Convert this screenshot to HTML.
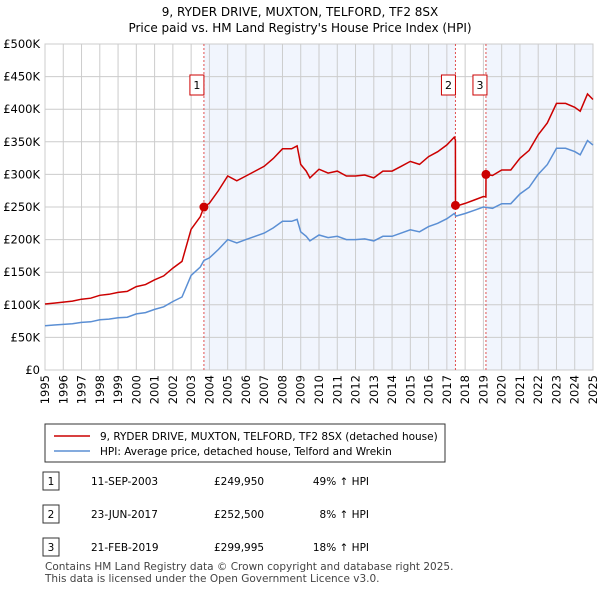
<!DOCTYPE html>
<html><head><meta charset="utf-8"><style>
body{margin:0;background:#fff;font-family:"DejaVu Sans","Liberation Sans",sans-serif;}
svg text{font-family:"DejaVu Sans","Liberation Sans",sans-serif;}
</style></head><body>
<svg id="c" width="600" height="590" xmlns="http://www.w3.org/2000/svg">
<text x="300" y="16" text-anchor="middle" font-size="12">9, RYDER DRIVE, MUXTON, TELFORD, TF2 8SX</text>
<text x="300" y="32" text-anchor="middle" font-size="12">Price paid vs. HM Land Registry's House Price Index (HPI)</text>
<g id="plot"></g>
<g>
<rect x="45" y="424" width="400" height="38" fill="#fff" stroke="#333"/>
<line x1="54" y1="436" x2="90" y2="436" stroke="#cc0000" stroke-width="1.5"/>
<text x="100" y="440" font-size="10.5">9, RYDER DRIVE, MUXTON, TELFORD, TF2 8SX (detached house)</text>
<line x1="54" y1="451" x2="90" y2="451" stroke="#5b8fd4" stroke-width="1.5"/>
<text x="100" y="455" font-size="10.5">HPI: Average price, detached house, Telford and Wrekin</text>
</g>
<g id="tbl" font-size="10.5"></g>
<text x="45" y="570" font-size="10.5" fill="#444">Contains HM Land Registry data © Crown copyright and database right 2025.</text>
<text x="45" y="582" font-size="10.5" fill="#444">This data is licensed under the Open Government Licence v3.0.</text>
</svg>
<script>
const hpiYears=[1995,1995.5,1996,1996.5,1997,1997.5,1998,1998.5,1999,1999.5,2000,2000.5,2001,2001.5,2002,2002.5,2003,2003.5,2003.7,2004,2004.5,2005,2005.5,2006,2006.5,2007,2007.5,2008,2008.5,2008.8,2009,2009.3,2009.5,2010,2010.5,2011,2011.5,2012,2012.5,2013,2013.5,2014,2014.5,2015,2015.5,2016,2016.5,2017,2017.4,2017.5,2018,2018.5,2019,2019.5,2020,2020.5,2021,2021.5,2022,2022.5,2023,2023.5,2024,2024.3,2024.7,2025];
const hpiValues=[68,69,70,71,73,74,77,78,80,81,86,88,93,97,105,112,145,158,168,172,185,200,195,200,205,210,218,228,228,231,212,205,198,207,203,205,200,200,201,198,205,205,210,215,212,220,225,232,240,236,240,245,250,248,255,255,270,280,300,315,340,340,335,330,352,345];
const saleDates=[2003.7,2017.47,2019.14];
const salePrices=[249.95,252.5,299.995];
const saleLabels=["1","2","3"];
const saleDateText=["11-SEP-2003","23-JUN-2017","21-FEB-2019"];
const salePriceText=["£249,950","£252,500","£299,995"];
const saleHpiText=["49% ↑ HPI","8% ↑ HPI","18% ↑ HPI"];
const yTicks=[0,50,100,150,200,250,300,350,400,450,500];
const yTickLabels=["£0","£50K","£100K","£150K","£200K","£250K","£300K","£350K","£400K","£450K","£500K"];
const xTicks=[1995,1996,1997,1998,1999,2000,2001,2002,2003,2004,2005,2006,2007,2008,2009,2010,2011,2012,2013,2014,2015,2016,2017,2018,2019,2020,2021,2022,2023,2024,2025];

const X0=45,X1=593,Y0=370,Y1=44;
const xs=v=>X0+(v-1995)/30*(X1-X0);
const ys=v=>Y0-v/500*(Y0-Y1);
const NS="http://www.w3.org/2000/svg";
const plot=document.getElementById('plot');
function mk(t,a,p){const e=document.createElementNS(NS,t);for(const k in a)e.setAttribute(k,a[k]);(p||plot).appendChild(e);return e;}
function hpiAt(t){for(let i=1;i<hpiYears.length;i++){if(t<=hpiYears[i]){const f=(t-hpiYears[i-1])/(hpiYears[i]-hpiYears[i-1]);return hpiValues[i-1]+f*(hpiValues[i]-hpiValues[i-1]);}}return hpiValues[hpiValues.length-1];}
const sh1=mk('rect',{x:xs(saleDates[0]),y:Y1,width:xs(saleDates[1])-xs(saleDates[0]),height:Y0-Y1,fill:'#f1f5fd'});


const sh2=mk('rect',{x:xs(saleDates[2]),y:Y1,width:X1-xs(saleDates[2]),height:Y0-Y1,fill:'#f1f5fd'});


yTicks.forEach((v,i)=>{
 const l=mk('line',{x1:X0,x2:X1,y1:ys(v),y2:ys(v),stroke:'#cccccc'});
 
 
 const t=mk('text',{x:40,y:ys(v)+4,'text-anchor':'end','font-size':11.5});
 
 
 t.textContent=yTickLabels[i];
});
xTicks.forEach(v=>{
 const l=mk('line',{x1:xs(v),x2:xs(v),y1:Y1,y2:Y0,stroke:'#cccccc'});
 
 
 const t=mk('text',{x:0,y:0,'text-anchor':'end','font-size':11.5,transform:`translate(${xs(v)+4},375) rotate(-90)`});
 
 
 t.textContent=v;
});
const br=mk('rect',{x:X0,y:Y1,width:X1-X0,height:Y0-Y1,fill:'none',stroke:'#cccccc'});


saleDates.forEach((d,i)=>{
 const l=mk('line',{x1:xs(d),x2:xs(d),y1:Y1,y2:Y0,stroke:'#e05050','stroke-dasharray':'2,2'});
 
 
 const bx=xs(d)-(i==2?2:3)-11;
 const r=mk('rect',{x:bx,y:75,width:14,height:20,fill:'#fff',stroke:'#cc0000'});
 
 
 const t=mk('text',{x:bx+7,y:89,'text-anchor':'middle','font-size':11});
 
 
 t.textContent=saleLabels[i];
});
let p='';hpiYears.forEach((y,i)=>{p+=(i?'L':'M')+xs(y).toFixed(1)+','+ys(hpiValues[i]).toFixed(1);});
const hl=mk('path',{d:p,fill:'none',stroke:'#5b8fd4','stroke-width':1.5});


function redAt(t){let k=0;for(let i=0;i<saleDates.length;i++)if(t>=saleDates[i])k=i;return salePrices[k]*hpiAt(t)/hpiAt(saleDates[k]);}
let pts=[];hpiYears.forEach(y=>pts.push([y,redAt(y)]));
saleDates.forEach((d,i)=>{pts.push([d-0.001,redAt(d-0.001)]);pts.push([d,salePrices[i]]);});
pts.sort((a,b)=>a[0]-b[0]);
let q='';pts.forEach((pt,i)=>{q+=(i?'L':'M')+xs(pt[0]).toFixed(1)+','+ys(pt[1]).toFixed(1);});
const rl=mk('path',{d:q,fill:'none',stroke:'#cc0000','stroke-width':1.5});


saleDates.forEach((d,i)=>{
 const c=mk('circle',{cx:xs(d),cy:ys(salePrices[i]),r:4.5,fill:'#cc0000'});
 
 
});
const tbl=document.getElementById('tbl');
const rowY=[485,518,551];
saleLabels.forEach((s,i)=>{
 const y=rowY[i];
 const r=mk('rect',{x:43,y:y-13,width:16,height:18,fill:'#fff',stroke:'#333'},tbl);
 
 
 const t0=mk('text',{x:51,y:y,'text-anchor':'middle'},tbl);
 
 
 t0.textContent=s;
 const t1=mk('text',{x:91,y:y},tbl);
 
 
 t1.textContent=saleDateText[i];
 const t2=mk('text',{x:214,y:y},tbl);
 
 
 t2.textContent=salePriceText[i];
 const t3=mk('text',{x:369,y:y,'text-anchor':'end'},tbl);
 
 
 t3.textContent=saleHpiText[i];
});
</script>
</body></html>
